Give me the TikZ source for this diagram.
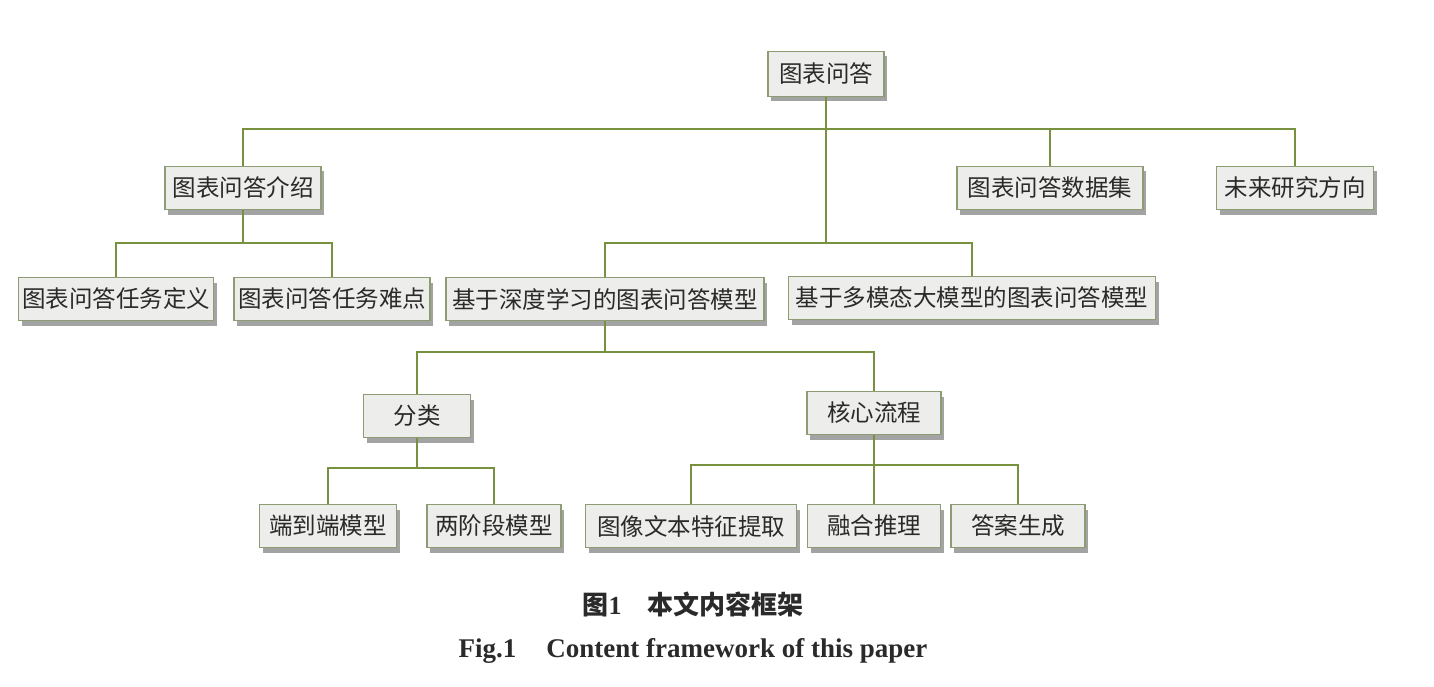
\documentclass[tikz,border=0pt]{standalone}
\usepackage{fontspec}
\setmainfont{Liberation Serif}
\newfontfamily\cjk{Noto Sans CJK SC}
\usetikzlibrary{shadows}
\definecolor{boxfill}{HTML}{EDEEEB}
\definecolor{boxline}{HTML}{8E9C74}
\definecolor{linkcol}{HTML}{77913F}
\definecolor{shadowcol}{HTML}{A3A3A3}
\definecolor{txtcol}{HTML}{2A2A2A}
\tikzset{
  tbox/.style={draw=boxline, line width=1.6pt, fill=boxfill, inner xsep=3pt, inner ysep=0pt,
    minimum height=43pt, text=txtcol, font=\cjk\fontsize{23.5pt}{27pt}\selectfont,
    drop shadow={shadow xshift=3pt, shadow yshift=-5pt, fill=shadowcol, opacity=1}},
  link/.style={draw=linkcol, line width=1.3pt},
  captxt/.style={text=txtcol, font=\bfseries}
}
\begin{document}
\begin{tikzpicture}[x=1pt,y=-1pt]
\useasboundingbox (0,0) rectangle (1434,687);
% junction levels
\coordinate (h1) at (0,129);
\coordinate (h2) at (0,243);
\coordinate (h3) at (0,352);
\coordinate (h4) at (0,468);
\coordinate (h5) at (0,465);
% nodes
\node[tbox, minimum width=116pt, minimum height=45pt] (root) at (826,74) {图表问答};
\node[tbox, minimum width=156pt] (intro) at (243,188) {图表问答介绍};
\node[tbox, minimum width=186pt] (data) at (1050,188) {图表问答数据集};
\node[tbox, minimum width=157pt] (future) at (1295,188) {未来研究方向};
\node[tbox, minimum width=195pt] (def) at (116,299) {图表问答任务定义};
\node[tbox, minimum width=196pt] (diff) at (332,299) {图表问答任务难点};
\node[tbox, minimum width=318pt] (dl) at (605,299) {基于深度学习的图表问答模型};
\node[tbox, minimum width=367pt] (mm) at (972,298) {基于多模态大模型的图表问答模型};
\node[tbox, minimum width=107pt] (cls) at (417,416) {分类};
\node[tbox, minimum width=134pt] (core) at (874,413) {核心流程};
\node[tbox, minimum width=137pt] (e2e) at (328,526) {端到端模型};
\node[tbox, minimum width=134pt] (two) at (494,526) {两阶段模型};
\node[tbox, minimum width=211pt] (feat) at (691,526) {图像文本特征提取};
\node[tbox, minimum width=133pt] (fuse) at (874,526) {融合推理};
\node[tbox, minimum width=134pt] (ans) at (1018,526) {答案生成};
% connectors
\path[link] (root.south) -- (root.south |- h2);
\path[link] (intro.north) |- (root.south |- h1) -| (future.north);
\path[link] (data.north) -- (data.north |- h1);
\path[link] (def.north) |- (intro.south |- h2) -| (diff.north);
\path[link] (intro.south) -- (intro.south |- h2);
\path[link] (dl.north) |- (root.south |- h2) -| (mm.north);
\path[link] (dl.south) -- (dl.south |- h3);
\path[link] (cls.north) |- (dl.south |- h3) -| (core.north);
\path[link] (cls.south) -- (cls.south |- h4);
\path[link] (e2e.north) |- (cls.south |- h4) -| (two.north);
\path[link] (core.south) -- (core.south |- h5);
\path[link] (feat.north) |- (core.south |- h5) -| (ans.north);
\path[link] (fuse.north) -- (fuse.north |- h5);
% captions
\node[captxt, font=\bfseries\fontsize{26pt}{30pt}\selectfont] (cap1) at (693,604) {{\cjk 图}1\hspace{26pt}{\cjk 本文内容框架}};
\node[captxt, font=\bfseries\fontsize{27pt}{31pt}\selectfont] (cap2) at (693,651) {Fig.1\hspace{30pt}Content framework of this paper};
\end{tikzpicture}
\end{document}
